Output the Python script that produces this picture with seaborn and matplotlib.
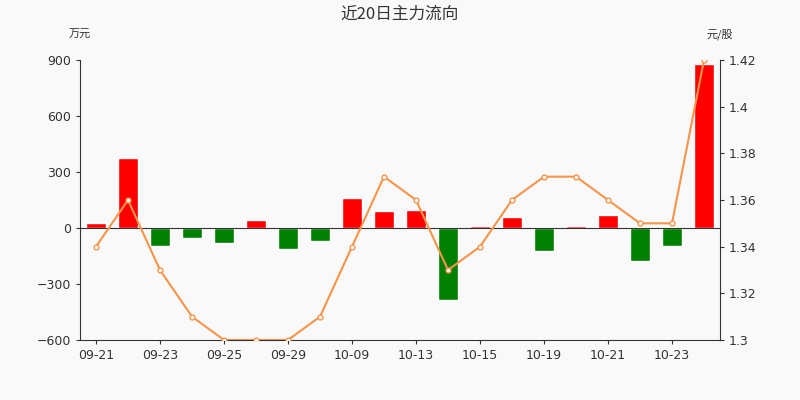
import matplotlib
matplotlib.use("Agg")
import matplotlib.pyplot as plt
import seaborn as sns
import numpy as np

dates = ["09-21","09-22","09-23","09-24","09-25","09-28","09-29","09-30","10-09","10-12",
         "10-13","10-14","10-15","10-16","10-19","10-20","10-21","10-22","10-23","10-26"]
flow = [27,375,-97,-54,-80,43,-113,-70,161,91,96,-386,11,59,-123,11,70,-177,-97,879]
price = [1.34,1.36,1.33,1.31,1.30,1.30,1.30,1.31,1.34,1.37,1.36,1.33,1.34,1.36,1.37,1.37,1.36,1.35,1.35,1.42]

sns.set_style("white")
plt.rcParams['font.family'] = ['DejaVu Sans']
bg = "#f9f9f9"
fig = plt.figure(figsize=(8,4), dpi=100, facecolor=bg)
ax = fig.add_axes([0.1, 0.15, 0.8, 0.70], facecolor=bg)
x = np.arange(len(dates))
colors = ["#ff0000" if v >= 0 else "#008000" for v in flow]
sns.barplot(x=x, y=flow, palette=colors, hue=x, legend=False, ax=ax, width=0.65, saturation=1)
ax.set_ylim(-600, 900)
ax.set_yticks([-600,-300,0,300,600,900])
ax.set_xlim(-0.5, 19.5)
ax.axhline(0, color="#333333", lw=0.8)
ax.set_xticks(x[::2])
ax.set_xticklabels(dates[::2])
for s in ["top","right"]:
    ax.spines[s].set_visible(False)
ax.spines["left"].set_color("#333333")
ax.spines["bottom"].set_color("#333333")
ax.tick_params(axis="both", colors="#333333", labelsize=9, length=3, left=True, bottom=True)
ax2 = ax.twinx()
ax2.plot(x, price, color="#f5944a", lw=1.5, marker="o", ms=3.5, mfc="white", mec="#f5944a")
ax2.set_ylim(1.30, 1.42)
ax2.set_yticks([1.30,1.32,1.34,1.36,1.38,1.40,1.42])
ax2.set_yticklabels(["1.3","1.32","1.34","1.36","1.38","1.4","1.42"])
for s in ["top","left","bottom"]:
    ax2.spines[s].set_visible(False)
ax2.spines["right"].set_color("#333333")
ax2.tick_params(axis="y", colors="#333333", labelsize=9, length=3, right=True)
fig.text(0.5, 0.965, "近20日主力流向", ha="center", va="center", fontsize=12, color="#333333",
         family=["Noto Sans CJK SC", "DejaVu Sans"])
fig.text(0.1, 0.905, "万元", ha="center", fontsize=8, color="#333333", family=["Noto Sans CJK SC"])
fig.text(0.9, 0.905, "元/股", ha="center", fontsize=8, color="#333333", family=["Noto Sans CJK SC"])
fig.savefig("out.png", facecolor=bg)
